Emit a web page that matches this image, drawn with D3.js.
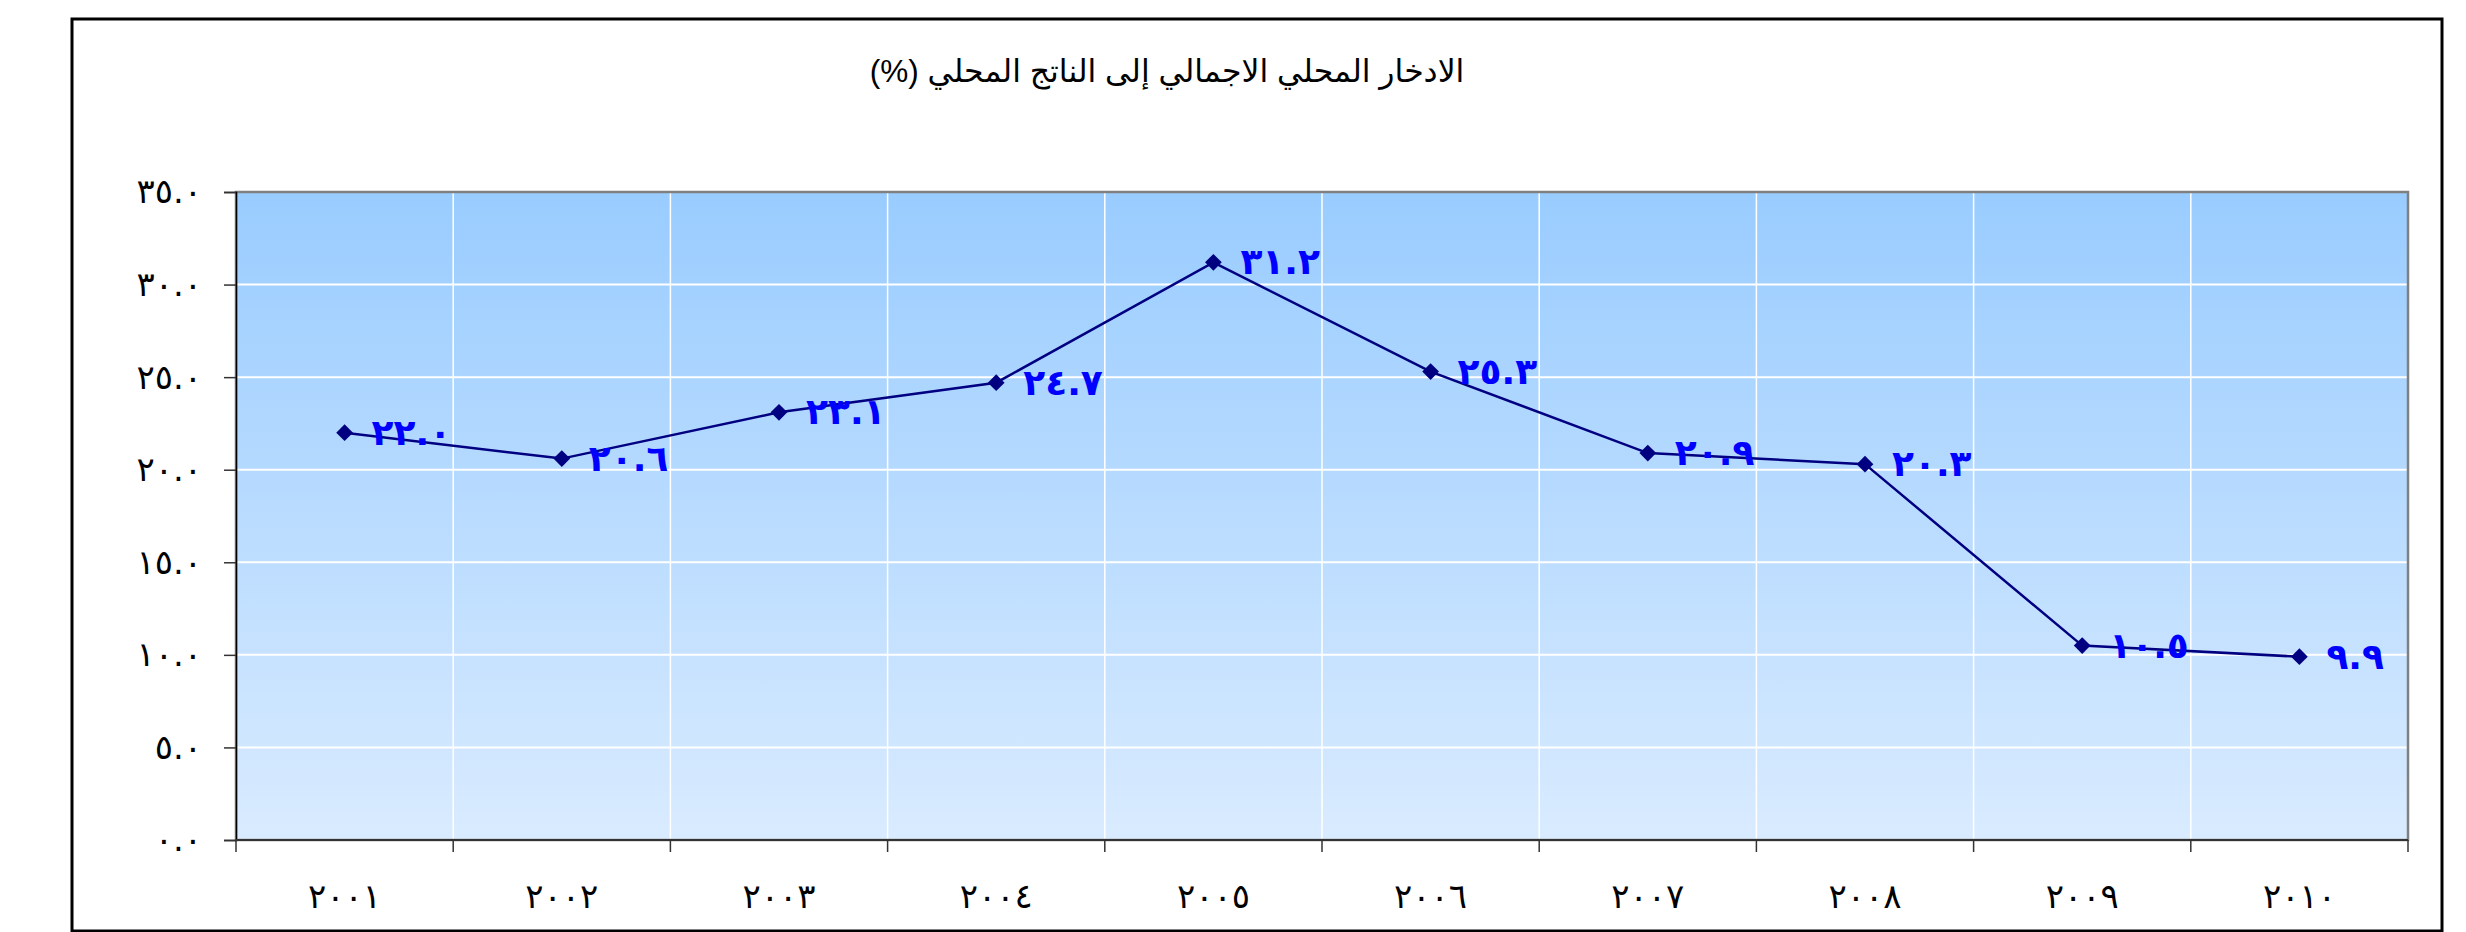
<!DOCTYPE html>
<html>
<head>
<meta charset="utf-8">
<script src="https://cdn.jsdelivr.net/npm/d3@7"></script>
<style>
  html, body { margin: 0; padding: 0; background: #ffffff; }
  svg { display: block; }
</style>
</head>
<body>
<svg id="chart" width="2466" height="932"></svg>
<script>
// ---- data ----
const titleText = "الادخار المحلي الاجمالي إلى الناتج المحلي (%)";
const years = ["2001","2002","2003","2004","2005","2006","2007","2008","2009","2010"];
const savingsValues = [22.0, 20.6, 23.1, 24.7, 31.2, 25.3, 20.9, 20.3, 10.5, 9.9];
const yTicks = [0, 5, 10, 15, 20, 25, 30, 35];

// ---- helpers ----
const arabicDigits = ["٠","١","٢","٣","٤","٥","٦","٧","٨","٩"];
const toArabic = s => String(s).replace(/[0-9]/g, d => arabicDigits[+d]);

const svg = d3.select("#chart");
const plot = { left: 236, right: 2408, top: 192, bottom: 840 };

// outer frame
svg.append("rect")
  .attr("x", 72).attr("y", 19)
  .attr("width", 2370).attr("height", 912)
  .attr("fill", "#ffffff").attr("stroke", "#000000").attr("stroke-width", 3);

// gradient
const defs = svg.append("defs");
const grad = defs.append("linearGradient").attr("id", "bg")
  .attr("x1", 0).attr("y1", 0).attr("x2", 0).attr("y2", 1);
grad.append("stop").attr("offset", "0%").attr("stop-color", "#99CCFF");
grad.append("stop").attr("offset", "100%").attr("stop-color", "#D9EBFF");

const x = d3.scaleBand().domain(years).range([plot.left, plot.right]).padding(0);
const y = d3.scaleLinear().domain([0, 35]).range([plot.bottom, plot.top]);

svg.append("rect")
  .attr("x", plot.left).attr("y", plot.top)
  .attr("width", plot.right - plot.left).attr("height", plot.bottom - plot.top)
  .attr("fill", "url(#bg)");

// gridlines
const grid = svg.append("g");
grid.selectAll("line.h").data(yTicks.filter(t => t > 0 && t < 35)).join("line")
  .attr("x1", plot.left).attr("x2", plot.right)
  .attr("y1", d => y(d)).attr("y2", d => y(d))
  .attr("stroke", "#ffffff").attr("stroke-width", 2);
grid.selectAll("line.v").data(years.slice(1)).join("line")
  .attr("x1", d => x(d)).attr("x2", d => x(d))
  .attr("y1", plot.top).attr("y2", plot.bottom)
  .attr("stroke", "#ffffff").attr("stroke-width", 1.5);

// plot border
svg.append("rect")
  .attr("x", plot.left).attr("y", plot.top)
  .attr("width", plot.right - plot.left).attr("height", plot.bottom - plot.top)
  .attr("fill", "none").attr("stroke", "#808080").attr("stroke-width", 2.5);

// y axis
const yAxis = d3.axisLeft(y).tickValues(yTicks).tickSize(12).tickPadding(22)
  .tickFormat(d => toArabic(d.toFixed(1)));
const gy = svg.append("g").attr("transform", `translate(${plot.left},0)`).call(yAxis);
gy.select(".domain").attr("stroke", "#000000").attr("stroke-width", 1.5);
gy.selectAll(".tick line").attr("stroke", "#333333").attr("stroke-width", 1.5);
gy.selectAll(".tick text")
  .attr("font-family", "DejaVu Sans, sans-serif").attr("font-size", 34)
  .attr("letter-spacing", 4).attr("fill", "#000000");

// x axis: ticks at category boundaries
const boundaries = years.map(d => x(d)).concat([plot.right]);
const gx = svg.append("g");
gx.append("line")
  .attr("x1", plot.left).attr("x2", plot.right)
  .attr("y1", plot.bottom).attr("y2", plot.bottom)
  .attr("stroke", "#333333").attr("stroke-width", 2);
gx.selectAll("line.tk").data(boundaries).join("line")
  .attr("x1", d => d).attr("x2", d => d)
  .attr("y1", plot.bottom).attr("y2", plot.bottom + 12)
  .attr("stroke", "#333333").attr("stroke-width", 1.5);
gx.selectAll("text").data(years).join("text")
  .attr("x", d => x(d) + x.bandwidth() / 2)
  .attr("y", 898)
  .attr("text-anchor", "middle")
  .attr("dominant-baseline", "middle")
  .attr("font-family", "DejaVu Sans, sans-serif").attr("font-size", 34)
  .attr("letter-spacing", 4)
  .attr("fill", "#000000")
  .text(d => toArabic(d));

// line
const pts = years.map((yr, i) => ({ yr, v: savingsValues[i] }));
const line = d3.line().x(d => x(d.yr) + x.bandwidth() / 2).y(d => y(d.v));
svg.append("path").datum(pts)
  .attr("d", line).attr("fill", "none")
  .attr("stroke", "#000080").attr("stroke-width", 2.5);

// markers
svg.selectAll("path.mk").data(pts).join("path")
  .attr("class", "mk")
  .attr("d", d3.symbol().type(d3.symbolSquare).size(140))
  .attr("transform", d => `translate(${x(d.yr) + x.bandwidth() / 2},${y(d.v)}) rotate(45)`)
  .attr("fill", "#000080");

// data labels
svg.selectAll("text.lbl").data(pts).join("text")
  .attr("class", "lbl")
  .attr("x", d => x(d.yr) + x.bandwidth() / 2 + 27)
  .attr("y", d => y(d.v) + 2)
  .attr("dominant-baseline", "middle")
  .attr("font-family", "DejaVu Sans, sans-serif")
  .attr("font-weight", "bold")
  .attr("font-size", 36)
  .attr("letter-spacing", 2)
  .attr("fill", "#0000FF")
  .text(d => toArabic(d.v.toFixed(1)));

// title
svg.append("text")
  .attr("x", 1167).attr("y", 74)
  .attr("text-anchor", "middle")
  .attr("dominant-baseline", "middle")
  .attr("direction", "rtl")
  .style("direction", "rtl")
  .attr("font-family", "Liberation Sans, DejaVu Sans, sans-serif")
  .attr("font-size", 31.5)
  .attr("fill", "#000000")
  .text(titleText);
</script>
</body>
</html>
